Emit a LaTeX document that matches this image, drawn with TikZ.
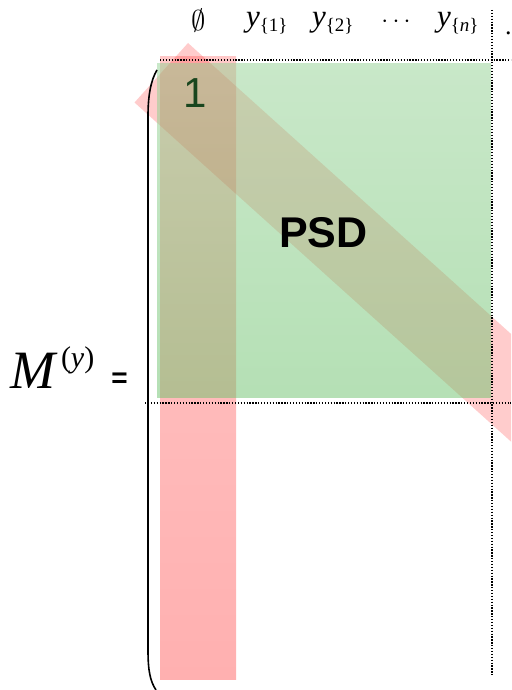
\documentclass[tikz,border=0pt]{standalone}
\usepackage{fontspec}
\newfontfamily\tms{Liberation Serif}
\newfontfamily\arl{Liberation Sans}
\definecolor{pinkA}{RGB}{255,200,200}
\definecolor{pinkB}{RGB}{255,176,176}
\definecolor{grnA}{RGB}{147,209,147}
\definecolor{grnB}{RGB}{107,193,107}
\definecolor{onecol}{RGB}{25,70,30}
\newcommand{\ylab}[1]{{\tms\itshape\fontsize{31}{31}\selectfont y}\raisebox{-5pt}{\tms\fontsize{19}{19}\selectfont\{#1\}}}
\tikzset{
  dotline/.style={line width=1.3pt, dash pattern=on 1.3pt off 1.6pt, black},
  band/.style={fill=red, fill opacity=0.2},
  lab/.style={inner sep=0pt, outer sep=0pt},
}
\begin{document}
\begin{tikzpicture}[x=1pt,y=-1pt]
\useasboundingbox (0,0) rectangle (511,690);
\clip (0,0) rectangle (511,690);
% pink column
\shade[top color=pinkA, bottom color=pinkB] (160,57) rectangle (236,679);
% diagonal band
\fill[band] (188,43) -- (134.5,102.5) -- (134.5+594,102.5+535) -- (188+594,43+535) -- cycle;
% green block
\shade[top color=grnA, bottom color=grnB, opacity=0.5] (157,64) rectangle (491,397);
% dotted lines
\draw[dotline] (160,60) -- (511,60);
\draw[dotline] (145,403) -- (511,403);
\draw[dotline] (492,10) -- (492,676);
% bracket
\draw[line width=1.6pt] (157,70) .. controls (151,80) and (148,95) .. (148,116) -- (148,650) .. controls (148,670) and (150,681) .. (156,690);
% labels
\node[lab] (empty) at (199,20.5) {\scalebox{1.15}{\fontsize{26}{26}\selectfont$\emptyset$}};
\node[lab, anchor=base west] (y1) at (246,27) {\ylab{1}};
\node[lab, anchor=base west] (y2) at (312,27) {\ylab{2}};
\node[lab] (cd) at (396,22) {\fontsize{28}{28}\selectfont$\cdots$};
\node[lab, anchor=base west] (yn) at (437,27) {\ylab{\textit{n}}};
\node[lab, anchor=base west] (more) at (505,35) {\tms\fontsize{26}{26}\selectfont .};
\node[lab] (one) at (195.5,93) {\arl\fontsize{42}{42}\selectfont\color{onecol}1};
\node[lab] (psd) at (323.5,232.5) {\arl\bfseries\fontsize{43}{43}\selectfont PSD};
\node[lab, anchor=base west] (M) at (10,388) {\tms\itshape\fontsize{54}{54}\selectfont M};
\node[lab, anchor=base west] (Msup) at (61,367) {\tms\fontsize{30}{30}\selectfont(\textit{y})};
\node[lab] (eq) at (119.5,380.5) {\arl\bfseries\fontsize{28}{28}\selectfont =};
\end{tikzpicture}
\end{document}
